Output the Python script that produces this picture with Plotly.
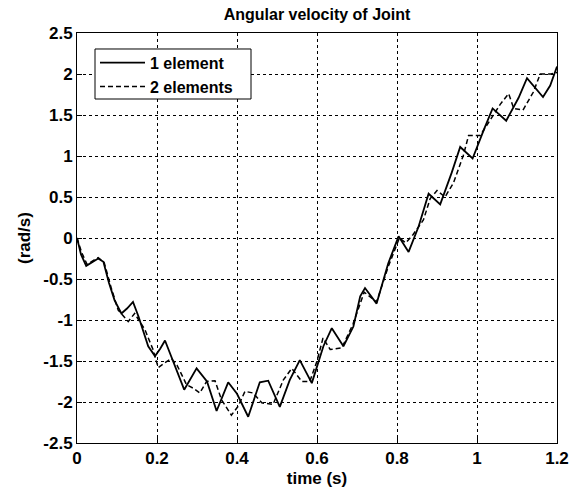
import plotly.graph_objects as go

# Joint angular velocity (rad/s) versus time (s) for two discretisations
t_one = [0, 0.01, 0.023, 0.038, 0.053, 0.066, 0.08, 0.094, 0.111, 0.125, 0.14, 0.154,
         0.178, 0.195, 0.208, 0.22, 0.245, 0.268, 0.299, 0.325, 0.349, 0.378, 0.40,
         0.428, 0.457, 0.478, 0.507, 0.532, 0.557, 0.587, 0.616, 0.637, 0.666, 0.691,
         0.708, 0.72, 0.749, 0.778, 0.804, 0.829, 0.854, 0.879, 0.908, 0.937, 0.958,
         0.989, 1.018, 1.039, 1.073, 1.104, 1.125, 1.165, 1.183, 1.2]
w_one = [0, -0.2, -0.34, -0.3, -0.25, -0.29, -0.55, -0.76, -0.92, -0.86, -0.78, -0.96,
         -1.32, -1.44, -1.35, -1.25, -1.57, -1.85, -1.59, -1.75, -2.11, -1.76, -1.9,
         -2.18, -1.76, -1.74, -2.06, -1.73, -1.49, -1.77, -1.32, -1.10, -1.32, -1.08,
         -0.71, -0.61, -0.80, -0.31, 0.02, -0.17, 0.14, 0.54, 0.41, 0.80, 1.11,
         0.97, 1.33, 1.58, 1.43, 1.71, 1.95, 1.72, 1.86, 2.09]

t_two = [0, 0.012, 0.025, 0.04, 0.053, 0.068, 0.085, 0.103, 0.128, 0.144, 0.17, 0.19,
         0.203, 0.22, 0.236, 0.25, 0.274, 0.29, 0.307, 0.324, 0.345, 0.361, 0.386,
         0.403, 0.42, 0.44, 0.462, 0.49, 0.516, 0.537, 0.562, 0.582, 0.6, 0.615,
         0.633, 0.662, 0.69, 0.718, 0.749, 0.778, 0.806, 0.822, 0.84, 0.866, 0.883,
         0.90, 0.92, 0.941, 0.966, 0.979, 1.008, 1.058, 1.079, 1.092, 1.115, 1.141,
         1.158, 1.185, 1.2]
w_two = [0, -0.18, -0.32, -0.28, -0.24, -0.3, -0.6, -0.88, -1.02, -0.92, -1.12, -1.36,
         -1.58, -1.52, -1.47, -1.55, -1.79, -1.83, -1.89, -1.75, -1.74, -1.97, -2.16,
         -2.05, -1.87, -1.89, -2.01, -2.03, -1.73, -1.59, -1.75, -1.75, -1.5, -1.22,
         -1.36, -1.34, -1.05, -0.66, -0.78, -0.35, 0.0, -0.06, 0.04, 0.22, 0.48,
         0.58, 0.50, 0.67, 1.01, 1.25, 1.25, 1.63, 1.76, 1.58, 1.56, 1.78,
         2.0, 2.0, 2.02]

x_ticks = [0, 0.2, 0.4, 0.6, 0.8, 1.0, 1.2]
x_labels = ["0", "0.2", "0.4", "0.6", "0.8", "1", "1.2"]
y_ticks = [-2.5, -2, -1.5, -1, -0.5, 0, 0.5, 1, 1.5, 2, 2.5]
y_labels = ["-2.5", "-2", "-1.5", "-1", "-0.5", "0", "0.5", "1", "1.5", "2", "2.5"]

FONT = "Liberation Sans, Arial, sans-serif"

fig = go.Figure()
fig.add_trace(go.Scatter(x=t_one, y=w_one, mode="lines", name="1 element",
                         line=dict(color="black", width=1.8)))
fig.add_trace(go.Scatter(x=t_two, y=w_two, mode="lines", name="2 elements",
                         line=dict(color="black", width=1.5, dash="5px,3px")))

axis_style = dict(
    showline=True, mirror=True, linecolor="black", linewidth=1,
    ticks="inside", ticklen=5, tickcolor="black",
    showgrid=True, gridcolor="black", gridwidth=1, griddash="3px,3px",
    zeroline=False, automargin=False,
    tickfont=dict(family=FONT, size=17, color="black", weight="bold"),
)

fig.update_xaxes(range=[0, 1.2], tickvals=x_ticks, ticktext=x_labels,
                 title=dict(text="time (s)", standoff=4,
                            font=dict(family=FONT, size=17, color="black", weight="bold")),
                 **axis_style)
fig.update_yaxes(range=[-2.5, 2.5], tickvals=y_ticks, ticktext=y_labels,
                 title=dict(text="(rad/s)", standoff=8,
                            font=dict(family=FONT, size=17, color="black", weight="bold")),
                 **axis_style)

# legend frame (white box with a thin black border)
fig.add_shape(type="rect", xref="paper", yref="paper",
              x0=0.0375, x1=0.3625, y0=0.839, y1=0.961,
              line=dict(color="black", width=1), fillcolor="white", layer="above")

fig.update_layout(
    width=579, height=489,
    margin=dict(l=77, r=22, t=33, b=46),
    paper_bgcolor="white", plot_bgcolor="white",
    title=dict(text="Angular velocity of Joint", x=0.5, xref="paper",
               y=1 - 14 / 489, yref="container", yanchor="middle",
               font=dict(family=FONT, size=16, color="black", weight="bold")),
    legend=dict(x=0.0375, y=0.969, xanchor="left", yanchor="top",
                bgcolor="rgba(0,0,0,0)", borderwidth=0,
                font=dict(family=FONT, size=16, color="black", weight="bold"),
                itemwidth=45, tracegroupgap=0),
    showlegend=True,
)

fig.write_html("out.html")
